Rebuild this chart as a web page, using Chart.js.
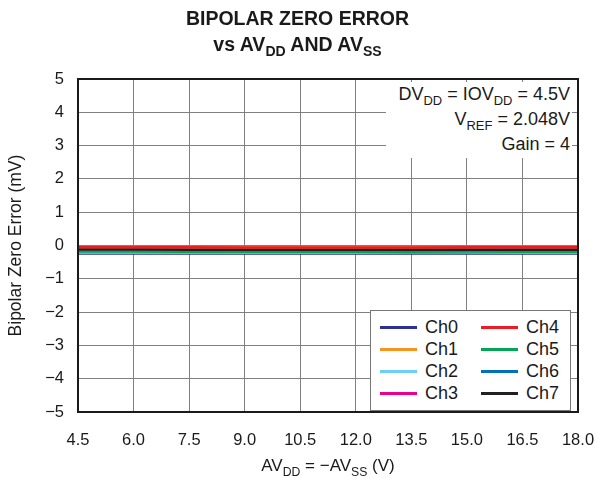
<!DOCTYPE html>
<html><head><meta charset="utf-8">
<script src="https://cdn.jsdelivr.net/npm/chart.js@4"></script>
<style>
html,body{margin:0;padding:0;background:#fff;}
#wrap{position:relative;width:595px;height:478px;font-family:"Liberation Sans",Arial,Helvetica,sans-serif;color:#1a1a1a;}
canvas{position:absolute;left:0;top:0;}
.title{position:absolute;left:0;width:595px;text-align:center;font-weight:bold;font-size:19.5px;line-height:26px;}
sub{font-size:72%;vertical-align:-0.38em;line-height:0;}
#note{position:absolute;left:386px;top:82px;width:184px;height:76px;background:#fff;text-align:right;font-size:18px;line-height:25px;padding-right:2px;}
#legend{position:absolute;left:370px;top:310px;width:199px;height:99px;border:1.5px solid #777;background:#fff;}
.li{position:absolute;font-size:18px;line-height:22px;white-space:nowrap;}
.li span{display:inline-block;width:37px;height:0;border-top:3px solid;vertical-align:middle;margin-right:8px;position:relative;top:-1px;}
#xt{position:absolute;left:78px;width:500px;top:455px;text-align:center;font-size:17px;line-height:22px;}
</style></head>
<body><div id="wrap">
<canvas id="c" width="595" height="478"></canvas>
<div class="title" style="top:5px">BIPOLAR ZERO ERROR</div>
<div class="title" style="top:31px">vs AV<sub>DD</sub> AND AV<sub>SS</sub></div>
<div id="note">DV<sub>DD</sub> = IOV<sub>DD</sub> = 4.5V<br>V<sub>REF</sub> = 2.048V<br>Gain = 4</div>
<div id="legend"></div>
<div id="xt">AV<sub>DD</sub> = −AV<sub>SS</sub> (V)</div>
</div>
<script>
const xValues = [4.5, 6.0, 7.5, 9.0, 10.5, 12.0, 13.5, 15.0, 16.5, 18.0];
const xTicks = [4.5, 6.0, 7.5, 9.0, 10.5, 12.0, 13.5, 15.0, 16.5, 18.0];
const yTicks = [-5, -4, -3, -2, -1, 0, 1, 2, 3, 4, 5];
const seriesNames = ["Ch0","Ch1","Ch2","Ch3","Ch4","Ch5","Ch6","Ch7"];
const seriesColors = ["#2e3192","#f7941d","#6dcff6","#ec008c","#ed1c24","#00a651","#0072bc","#231f20"];
const ch0 = [-0.24,-0.24,-0.24,-0.24,-0.24,-0.24,-0.24,-0.24,-0.24,-0.24];
const ch1 = [-0.05,-0.05,-0.06,-0.06,-0.06,-0.06,-0.06,-0.05,-0.05,-0.05];
const ch2 = [-0.21,-0.21,-0.21,-0.21,-0.21,-0.21,-0.20,-0.20,-0.21,-0.21];
const ch3 = [-0.06,-0.06,-0.06,-0.06,-0.06,-0.06,-0.06,-0.06,-0.06,-0.06];
const ch4 = [-0.05,-0.05,-0.05,-0.06,-0.06,-0.06,-0.06,-0.05,-0.05,-0.05];
const ch5 = [-0.18,-0.18,-0.19,-0.19,-0.19,-0.19,-0.19,-0.18,-0.19,-0.19];
const ch6 = [-0.22,-0.22,-0.22,-0.22,-0.22,-0.22,-0.22,-0.22,-0.22,-0.22];
const ch7 = [-0.12,-0.12,-0.13,-0.13,-0.13,-0.13,-0.13,-0.13,-0.13,-0.13];
const seriesValues = [ch0,ch1,ch2,ch3,ch4,ch5,ch6,ch7];
// drawing order (lower = drawn on top)
const drawOrder = [5,6,3,7,0,2,4,1];

const datasets = seriesNames.map((n,i)=>({
  label:n,
  data:xValues.map((x,j)=>({x:x,y:seriesValues[i][j]})),
  borderColor:seriesColors[i],
  backgroundColor:seriesColors[i],
  borderWidth:2.5,
  pointRadius:0,
  tension:0,
  order:drawOrder[i]
}));

const lg = document.getElementById('legend');
seriesNames.forEach((n,i)=>{
  const d=document.createElement('div');
  d.className='li';
  const col=Math.floor(i/4), row=i%4;
  d.style.left=(9+col*101)+'px';
  d.style.top=(5+row*22)+'px';
  d.innerHTML='<span style="border-color:'+seriesColors[i]+'"></span>'+n;
  lg.appendChild(d);
});

const borderPlugin={
  id:'frame',
  afterDraw(chart){
    const {ctx,chartArea:a}=chart;
    ctx.save();
    ctx.strokeStyle='#1a1a1a';
    ctx.lineWidth=2;
    ctx.strokeRect(a.left,a.top,a.right-a.left,a.bottom-a.top);
    ctx.restore();
  }
};

const FONT='"Liberation Sans", Arial';
new Chart(document.getElementById('c'),{
  type:'line',
  data:{datasets:datasets},
  plugins:[borderPlugin],
  options:{
    responsive:false,
    animation:false,
    layout:{padding:{left:6,right:17,top:79,bottom:0}},
    plugins:{legend:{display:false},tooltip:{enabled:false}},
    scales:{
      x:{
        type:'linear',min:4.5,max:18,
        afterBuildTicks(s){s.ticks=xTicks.map(v=>({value:v}));},
        afterFit(s){s.height=66;s.paddingLeft=0;s.paddingRight=0;},
        grid:{color:'#808080',lineWidth:1,drawTicks:false},
        border:{display:false},
        ticks:{padding:19,color:'#1a1a1a',font:{family:FONT,size:16.5},
          maxRotation:0,autoSkip:false,callback:v=>Number(v).toFixed(1)}
      },
      y:{
        type:'linear',min:-5,max:5,
        afterBuildTicks(s){s.ticks=yTicks.map(v=>({value:v}));},
        afterFit(s){s.width=72;s.paddingTop=0;s.paddingBottom=0;},
        grid:{color:'#808080',lineWidth:1,drawTicks:false},
        border:{display:false},
        title:{display:true,text:'Bipolar Zero Error (mV)',color:'#1a1a1a',
          font:{family:FONT,size:17.5},padding:{top:0,bottom:6}},
        ticks:{padding:14,color:'#1a1a1a',font:{family:FONT,size:16.5},
          autoSkip:false,callback:v=>String(v).replace('-','\u2212')}
      }
    }
  }
});
</script>
</body></html>
